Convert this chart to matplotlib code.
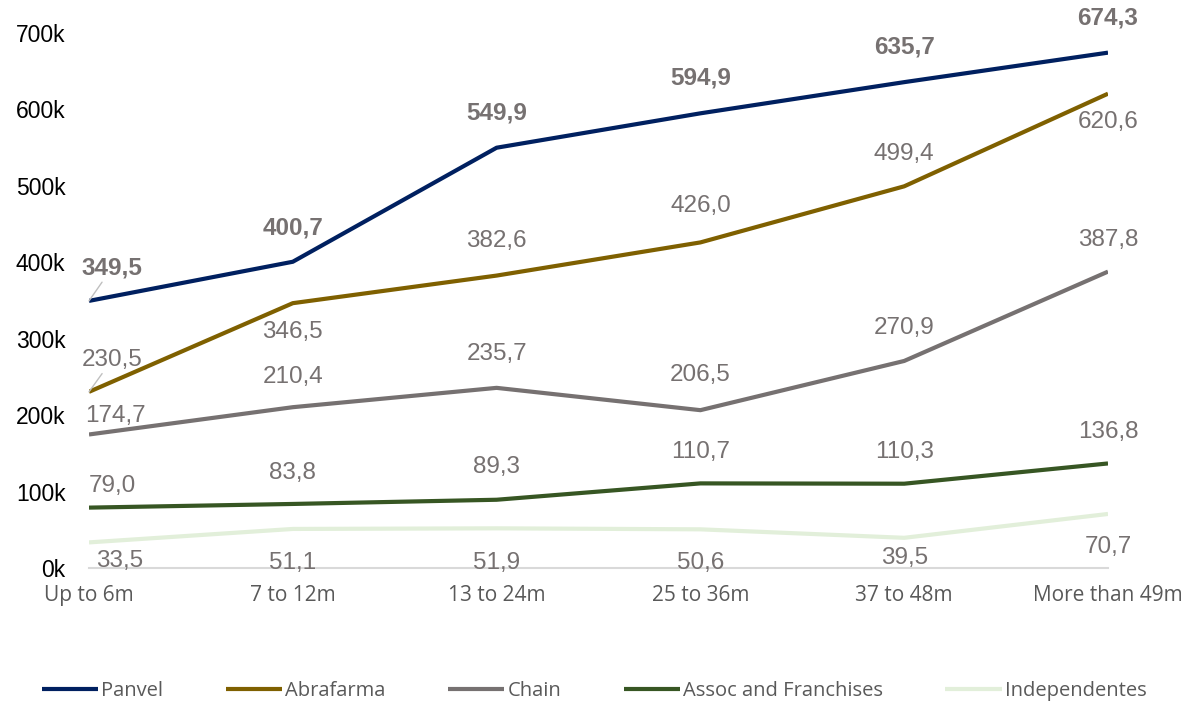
import matplotlib
matplotlib.use("Agg")
import matplotlib.pyplot as plt
from matplotlib.ticker import FuncFormatter, MultipleLocator

# Average value (thousands) by store age band
categories = ["Up to 6m", "7 to 12m", "13 to 24m", "25 to 36m", "37 to 48m", "More than 49m"]
panvel = [349.5, 400.7, 549.9, 594.9, 635.7, 674.3]
abrafarma = [230.5, 346.5, 382.6, 426.0, 499.4, 620.6]
chain = [174.7, 210.4, 235.7, 206.5, 270.9, 387.8]
assoc = [79.0, 83.8, 89.3, 110.7, 110.3, 136.8]
independentes = [33.5, 51.1, 51.9, 50.6, 39.5, 70.7]
series_names = ["Panvel", "Abrafarma", "Chain", "Assoc and Franchises", "Independentes"]

series = [panvel, abrafarma, chain, assoc, independentes]
colors = ["#002060", "#7F6000", "#767171", "#375623", "#E2EFDA"]

# label offsets in pixels (dx, dy) relative to each point
offsets = [
    [(23, 33), (0, 34), (0, 35), (0, 35), (0, 35), (0, 35)],
    [(23, 32), (0, -29), (0, 35), (0, 36), (0, 32), (0, -28)],
    [(26, 18), (0, 30), (0, 34), (0, 35), (0, 33), (0, 32)],
    [(23, 22), (0, 31), (0, 33), (0, 31), (0, 32), (0, 31)],
    [(31, -19), (0, -34), (0, -35), (0, -34), (0, -20), (0, -33)],
]
leader = {(0, 0), (1, 0)}

label_color = "#767171"
W, H = 1191, 704
fig = plt.figure(figsize=(W / 100, H / 100), dpi=100)
ax = fig.add_axes([89 / W, 1 - 568 / H, (1108 - 89) / W, (568 - 33) / H])

x = list(range(len(categories)))
for i, (vals, name, col) in enumerate(zip(series, series_names, colors)):
    ys = [v * 1000 for v in vals]
    ax.plot(x, ys, color=col, lw=3, label=name, solid_capstyle="butt",
            solid_joinstyle="round", zorder=5 - i)
    for j, (xx, yy, v) in enumerate(zip(x, ys, vals)):
        dx, dy = offsets[i][j]
        txt = f"{v:.1f}".replace(".", ",")
        kw = {}
        if (i, j) in leader:
            kw["arrowprops"] = dict(arrowstyle="-", color="#bfbfbf", lw=1,
                                    shrinkA=0, shrinkB=0)
        ax.annotate(txt, (xx, yy), xytext=(dx, dy), textcoords="offset pixels",
                    ha="center", va="center", color=label_color,
                    fontsize=17.5, family="Liberation Sans",
                    fontweight="bold" if i == 0 else "normal",
                    annotation_clip=False, zorder=10, **kw)

ax.set_xlim(0, 5)
ax.set_ylim(0, 700000)
ax.yaxis.set_major_locator(MultipleLocator(100000))
ax.yaxis.set_major_formatter(FuncFormatter(lambda v, p: f"{int(round(v / 1000))}k"))
ax.set_xticks(x)
ax.set_xticklabels(categories)

for s in ["top", "right", "left"]:
    ax.spines[s].set_visible(False)
ax.spines["bottom"].set_color("#d9d9d9")
ax.spines["bottom"].set_linewidth(1.5)

ax.tick_params(axis="y", length=0, pad=17, labelsize=16.5, labelcolor="#000000")
ax.tick_params(axis="x", length=0, pad=12, labelsize=15, labelcolor="#595959")
for t in ax.get_yticklabels():
    t.set_family("Liberation Sans")
for t in ax.get_xticklabels():
    t.set_family("Open Sans")

leg = ax.legend(loc="center", bbox_to_anchor=(0.499, 0.018),
                bbox_transform=fig.transFigure, ncol=5, frameon=False,
                prop={"family": "Open Sans", "size": 14.5},
                handlelength=2.8, handletextpad=0.15, columnspacing=3.1,
                labelcolor="#595959")

fig.savefig("out.png", dpi=100)
